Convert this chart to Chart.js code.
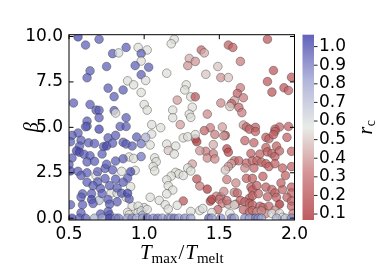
<!DOCTYPE html>
<html>
<head>
<meta charset="utf-8">
<script src="https://cdn.jsdelivr.net/npm/chart.js@4.4.0/dist/chart.umd.min.js"></script>
<style>
  html, body { margin: 0; padding: 0; background: #fff; }
</style>
</head>
<body>
<canvas id="scatter" width="381" height="267"></canvas>
<script>
// upper half of the plot (beta > 5)
const upperT = [
  0.56, 0.70, 0.61, 0.88, 0.96, 1.02, 0.79, 0.83, 0.98, 0.98,
  0.94, 1.03, 0.75, 1.20, 1.18, 1.38, 1.40, 1.30, 1.34, 1.29,
  1.49, 1.82, 1.56, 1.59, 1.64, 1.86, 0.64, 0.62, 0.89, 0.93,
  0.98, 1.01, 1.15, 1.41, 1.51, 1.56, 1.98, 1.82, 0.76, 0.86,
  0.80, 0.98, 1.28, 1.27, 1.64, 1.62, 1.66, 1.85, 1.93, 1.96,
  0.53, 0.64, 1.00, 1.02, 1.31, 1.34, 1.22, 1.32, 1.19, 1.51,
  1.60, 1.58, 1.57, 1.63, 1.65, 0.68, 0.70, 0.80, 0.81, 1.30,
  1.31, 1.42, 1.19, 0.70, 0.88, 0.62, 0.62, 0.84, 0.88, 1.05,
  1.11, 1.24, 1.44, 1.66, 1.68, 1.74, 1.52, 1.90, 1.96
];
const upperBeta = [
  9.98, 9.85, 9.53, 9.40, 9.40, 9.26, 9.06, 9.10, 9.06, 8.65,
  8.40, 8.31, 8.35, 9.85, 9.60, 9.26, 9.10, 8.79, 8.63, 8.40,
  8.35, 9.85, 9.53, 9.40, 8.63, 8.13, 8.11, 7.73, 7.56, 7.34,
  7.90, 7.58, 7.98, 7.92, 7.74, 7.74, 7.76, 7.52, 7.16, 7.06,
  6.69, 6.92, 7.34, 7.06, 7.18, 6.87, 6.63, 6.94, 7.18, 7.03,
  6.34, 6.26, 6.26, 5.95, 6.68, 6.68, 6.50, 6.11, 5.95, 6.34,
  6.48, 6.31, 6.15, 6.10, 5.81, 5.95, 5.94, 5.92, 5.79, 5.73,
  5.55, 5.73, 5.53, 5.53, 5.53, 5.34, 5.06, 5.05, 5.05, 5.15,
  4.98, 5.15, 4.98, 5.13, 5.02, 5.00, 5.02, 5.02, 5.05
];
const upperRc = [
  1.00, 0.95, 0.95, 0.95, 0.55, 0.55, 0.95, 0.60, 0.95, 0.55,
  0.95, 0.95, 0.95, 0.55, 0.55, 0.30, 0.45, 0.45, 0.40, 0.40,
  0.50, 0.25, 0.28, 0.28, 0.35, 0.25, 0.95, 0.95, 0.55, 0.55,
  0.95, 0.55, 0.55, 0.50, 0.40, 0.50, 0.25, 0.25, 0.95, 0.95,
  0.95, 0.55, 0.55, 0.55, 0.35, 0.28, 0.35, 0.25, 0.25, 0.30,
  0.95, 0.95, 0.55, 0.55, 0.55, 0.25, 0.42, 0.55, 0.55, 0.38,
  0.42, 0.28, 0.50, 0.30, 0.35, 0.95, 0.95, 0.95, 0.55, 0.55,
  0.55, 0.38, 0.55, 0.95, 0.95, 0.95, 0.95, 0.95, 0.95, 0.55,
  0.55, 0.42, 0.35, 0.42, 0.30, 0.28, 0.42, 0.28, 0.28
];

// hot runs, lower half
const hotT = [
  1.40, 1.47, 1.54, 1.34, 1.35, 1.41, 1.46, 1.37, 1.55, 1.56,
  1.67, 1.73, 1.70, 1.74, 1.87, 1.87, 1.81, 1.83, 1.86, 1.95,
  1.53, 1.71, 1.77, 1.81, 1.82, 1.85, 1.87, 1.98, 1.88, 1.90,
  1.42, 1.47, 1.60, 1.63, 1.68, 1.72, 1.75, 1.78, 1.81, 1.83,
  1.87, 1.58, 1.56, 1.67, 1.73, 1.92, 1.98, 1.35, 1.37, 1.55,
  1.61, 1.68, 1.72, 1.79, 1.94, 1.42, 1.48, 1.51, 1.60, 1.62,
  1.71, 1.72, 1.75, 1.81, 1.85, 1.87, 1.92, 1.98, 1.98, 1.53,
  1.91, 1.70, 1.72, 1.76, 1.82, 1.88, 1.95, 1.98, 1.50, 1.52,
  1.56, 1.61, 1.64, 1.67, 1.70, 1.72, 1.77, 1.79, 1.83, 1.90,
  1.98, 1.44, 1.45, 1.26, 1.55, 1.66, 1.70, 1.72, 1.75, 1.81,
  1.99, 1.49, 1.78, 1.87, 1.46, 1.32
];
const hotBeta = [
  4.82, 4.61, 4.56, 4.37, 4.21, 3.68, 3.55, 3.71, 3.82, 3.63,
  4.27, 4.15, 4.90, 4.77, 4.90, 4.77, 4.45, 4.37, 4.60, 4.45,
  4.53, 3.56, 3.53, 3.89, 3.65, 3.56, 3.40, 3.68, 3.97, 3.70,
  3.31, 3.26, 3.16, 3.16, 3.03, 3.16, 3.16, 3.08, 3.00, 2.84,
  3.00, 3.00, 2.84, 2.76, 2.76, 2.76, 2.84, 2.16, 1.77, 2.13,
  1.94, 2.19, 2.19, 2.30, 2.35, 1.60, 1.21, 1.18, 1.42, 1.39,
  1.71, 1.55, 1.79, 1.71, 1.58, 1.39, 1.58, 1.71, 1.39, 1.47,
  1.94, 1.10, 1.23, 1.35, 1.18, 1.15, 1.15, 0.94, 1.03, 0.82,
  0.77, 0.77, 0.98, 0.90, 0.82, 0.74, 0.66, 0.58, 0.66, 0.77,
  0.66, 0.94, 1.04, 0.95, 0.97, 0.47, 0.34, 0.42, 0.34, 0.26,
  0.26, 0.47, 0.40, 0.44, 4.05, 2.98
];
const hotRc = [
  0.30, 0.35, 0.20, 0.30, 0.15, 0.35, 0.35, 0.40, 0.20, 0.20,
  0.30, 0.30, 0.28, 0.28, 0.28, 0.28, 0.28, 0.28, 0.28, 0.28,
  0.42, 0.28, 0.28, 0.28, 0.28, 0.28, 0.28, 0.28, 0.28, 0.28,
  0.38, 0.38, 0.30, 0.30, 0.30, 0.30, 0.30, 0.30, 0.28, 0.28,
  0.28, 0.42, 0.40, 0.38, 0.30, 0.28, 0.28, 0.25, 0.35, 0.35,
  0.38, 0.28, 0.28, 0.28, 0.28, 0.15, 0.35, 0.35, 0.38, 0.30,
  0.28, 0.28, 0.28, 0.28, 0.28, 0.28, 0.30, 0.28, 0.30, 0.38,
  0.28, 0.28, 0.28, 0.30, 0.28, 0.28, 0.28, 0.28, 0.35, 0.35,
  0.45, 0.28, 0.28, 0.28, 0.28, 0.28, 0.28, 0.30, 0.30, 0.10,
  0.30, 0.20, 0.20, 0.25, 0.30, 0.30, 0.30, 0.30, 0.38, 0.38,
  0.35, 0.30, 0.38, 0.38, 0.45, 0.42
];

// transition band around T = 1
const midT = [
  1.26, 1.29, 1.34, 1.15, 1.21, 1.16, 1.20, 1.07, 1.08, 1.06,
  1.07, 1.29, 1.31, 1.21, 1.23, 1.26, 1.18, 1.15, 1.16, 1.19,
  1.15, 1.04, 1.10, 1.14, 1.22, 1.00, 1.16, 1.37, 1.39, 1.45,
  1.31, 1.60, 1.57, 1.85, 1.90, 1.92, 1.54, 1.05, 1.01, 1.04,
  0.90, 0.93, 0.85, 0.94, 0.68, 0.91, 0.78, 0.82, 0.88, 0.92,
  0.96, 0.89, 0.90, 0.96, 0.70, 0.98, 0.99, 1.02
];
const midBeta = [
  4.42, 4.48, 4.60, 4.08, 3.97, 3.73, 3.53, 3.32, 3.11, 2.84,
  2.60, 2.76, 2.60, 2.52, 2.44, 2.35, 2.32, 2.11, 1.79, 1.55,
  1.34, 1.15, 0.98, 0.74, 0.71, 0.58, 0.50, 0.42, 0.53, 0.31,
  0.37, 0.73, 0.26, 0.26, 0.26, 0.05, 2.65, 4.63, 4.45, 4.03,
  3.37, 3.29, 2.58, 2.63, 2.34, 1.74, 1.39, 1.37, 1.15, 0.66,
  0.66, 0.32, 0.19, 0.31, 0.98, 0.40, 0.16, 0.48
];
const midRc = [
  0.55, 0.55, 0.55, 0.55, 0.55, 0.50, 0.55, 0.55, 0.55, 0.55,
  0.55, 0.55, 0.55, 0.55, 0.55, 0.55, 0.55, 0.55, 0.55, 0.55,
  0.55, 0.55, 0.55, 0.55, 0.55, 0.55, 0.55, 0.55, 0.55, 0.55,
  0.55, 0.55, 0.55, 0.55, 0.55, 0.55, 0.50, 0.55, 0.75, 0.55,
  0.55, 0.55, 0.55, 0.55, 0.55, 0.55, 0.55, 0.60, 0.55, 0.55,
  0.55, 0.55, 0.55, 0.55, 0.70, 0.60, 0.75, 0.55
];

// cold runs, lower half
const coldT = [
  0.61, 0.70, 0.56, 0.52, 0.51, 0.58, 0.76, 0.81, 0.95, 0.63,
  0.67, 0.73, 0.75, 0.86, 0.88, 0.57, 0.55, 0.57, 0.60, 0.64,
  0.72, 0.52, 0.62, 0.67, 0.81, 0.86, 0.98, 0.50, 0.51, 0.56,
  0.62, 0.74, 0.79, 0.91, 0.58, 0.62, 0.69, 0.74, 0.81, 0.89,
  0.66, 0.71, 0.77, 0.82, 0.86, 0.59, 0.58, 0.65, 0.72, 0.85,
  0.89, 0.65, 0.76, 0.82, 0.90, 0.51, 0.59, 0.66, 0.77, 0.58,
  0.71, 0.76, 0.77, 0.79, 0.92, 0.75, 0.69, 0.98
];
const coldBeta = [
  5.03, 4.90, 4.69, 4.56, 4.21, 4.29, 4.42, 4.56, 4.47, 4.15,
  4.11, 3.95, 3.97, 4.18, 4.08, 3.97, 3.71, 3.63, 3.52, 3.44,
  3.53, 3.31, 3.10, 3.13, 3.15, 3.27, 3.39, 2.95, 2.60, 2.58,
  2.50, 2.74, 2.66, 2.56, 2.35, 1.98, 2.00, 2.18, 2.15, 2.21,
  1.79, 1.63, 1.79, 1.66, 1.98, 1.34, 1.16, 1.35, 1.35, 1.37,
  1.37, 1.02, 1.03, 0.90, 1.06, 0.74, 0.74, 0.81, 0.77, 0.29,
  0.23, 0.37, 0.18, 4.13, 3.97, 2.97, 2.56, 4.10
];
const coldRc = [
  0.95, 1.00, 0.95, 0.95, 0.95, 0.95, 0.95, 0.95, 0.95, 0.95,
  0.95, 0.95, 1.00, 0.95, 0.95, 0.95, 1.00, 1.00, 0.95, 0.95,
  0.95, 0.95, 0.95, 0.95, 0.95, 0.95, 0.90, 0.95, 1.00, 0.95,
  0.95, 0.95, 0.95, 1.00, 0.95, 0.95, 0.95, 0.95, 0.95, 0.95,
  0.95, 0.95, 0.95, 0.95, 0.95, 0.95, 0.95, 0.95, 0.95, 0.95,
  1.00, 1.00, 0.95, 0.95, 0.95, 0.95, 0.95, 0.95, 0.95, 0.95,
  0.95, 0.95, 0.95, 0.95, 0.95, 0.95, 0.95, 0.90
];

// runs with beta = 0
const floorT = [
  0.52, 0.57, 0.61, 0.67, 0.72, 0.77, 0.81, 0.83, 0.89, 0.92,
  0.95, 0.99, 1.02, 1.06, 1.09, 1.12, 1.16, 1.18, 1.20, 1.23,
  1.27, 1.31, 1.43, 1.45, 1.51, 1.58, 1.60, 1.67, 1.70, 1.74,
  1.76, 1.78, 1.88, 1.94, 1.98
];
const floorBeta = [
  0, 0, 0, 0, 0, 0, 0, 0, 0, 0,
  0, 0, 0, 0, 0, 0, 0, 0, 0, 0,
  0, 0, 0, 0, 0, 0, 0, 0, 0, 0,
  0, 0, 0, 0, 0
];
const floorRc = [
  1.00, 0.95, 0.95, 0.75, 0.80, 1.00, 0.85, 0.90, 0.80, 0.85,
  0.75, 0.80, 0.90, 0.85, 0.90, 0.80, 0.85, 0.75, 0.90, 0.80,
  0.85, 0.80, 0.95, 0.80, 0.85, 0.90, 0.80, 0.85, 0.80, 0.90,
  0.85, 0.80, 0.75, 0.70, 0.85
];

const xTicks = [0.5, 1.0, 1.5, 2.0];
const yTicks = [0, 2.5, 5, 7.5, 10];
const cbTicks = [0.1, 0.2, 0.3, 0.4, 0.5, 0.6, 0.7, 0.8, 0.9, 1.0];

const cMin = 0.068, cMax = 1.064;
const cmapStops = [
  [0.00, [165, 30, 35]],
  [0.25, [195, 105, 108]],
  [0.50, [222, 228, 222]],
  [0.75, [150, 155, 205]],
  [1.00, [38, 38, 160]]
];
const ALPHA = 0.72;

function cmap(v, a) {
  let t = (v - cMin) / (cMax - cMin);
  t = Math.max(0, Math.min(1, t));
  for (let i = 1; i < cmapStops.length; i++) {
    const [t1, c1] = cmapStops[i];
    const [t0, c0] = cmapStops[i - 1];
    if (t <= t1) {
      const f = (t - t0) / (t1 - t0);
      const c = c0.map((ch, k) => Math.round(ch + (c1[k] - ch) * f));
      return `rgba(${c[0]},${c[1]},${c[2]},${a})`;
    }
  }
  return `rgba(38,38,160,${a})`;
}

const groups = [
  [upperT, upperBeta, upperRc],
  [hotT, hotBeta, hotRc],
  [midT, midBeta, midRc],
  [coldT, coldBeta, coldRc],
  [floorT, floorBeta, floorRc]
];
const points = [];
const fills = [];
groups.forEach(([t, b, r]) => {
  t.forEach((v, i) => {
    points.push({ x: v, y: b[i] });
    fills.push(cmap(r[i], ALPHA));
  });
});

const SERIF = '"Liberation Serif", "DejaVu Serif", serif';
const tickFont = { family: '"DejaVu Sans"', size: 17 };

function mathText(ctx, parts, cx, baseY) {
  let w = 0;
  parts.forEach(p => { ctx.font = p[1]; w += ctx.measureText(p[0]).width + (p[3] || 0); });
  let x = cx - w / 2;
  parts.forEach(p => {
    ctx.font = p[1];
    ctx.fillText(p[0], x, baseY + p[2]);
    x += ctx.measureText(p[0]).width + (p[3] || 0);
  });
}

const decor = {
  id: 'decor',
  afterDatasetsDraw(chart) {
    const { ctx, chartArea: ca, scales } = chart;
    const xs = scales.x, ys = scales.y, cb = scales.cb;
    ctx.save();
    ctx.strokeStyle = '#000';
    ctx.lineWidth = 1;
    ctx.strokeRect(ca.left, ca.top, ca.right - ca.left, ca.bottom - ca.top);

    // inward ticks on all four sides
    ctx.beginPath();
    xTicks.forEach(v => {
      const px = xs.getPixelForValue(v);
      ctx.moveTo(px, ca.bottom); ctx.lineTo(px, ca.bottom - 4.5);
      ctx.moveTo(px, ca.top); ctx.lineTo(px, ca.top + 4.5);
    });
    yTicks.forEach(v => {
      const py = ys.getPixelForValue(v);
      ctx.moveTo(ca.left, py); ctx.lineTo(ca.left + 4.5, py);
      ctx.moveTo(ca.right, py); ctx.lineTo(ca.right - 4.5, py);
    });
    ctx.stroke();

    // colorbar
    const bx = ca.right + 8, bw = 11.5;
    const top = cb.getPixelForValue(cMax), bot = cb.getPixelForValue(cMin);
    const g = ctx.createLinearGradient(0, bot, 0, top);
    for (let i = 0; i <= 40; i++) {
      g.addColorStop(i / 40, cmap(cMin + (cMax - cMin) * i / 40, ALPHA));
    }
    ctx.fillStyle = g;
    ctx.fillRect(bx, top, bw, bot - top);
    ctx.beginPath();
    cbTicks.forEach(v => {
      const py = cb.getPixelForValue(v);
      ctx.moveTo(bx + bw, py); ctx.lineTo(bx + bw + 3.5, py);
    });
    ctx.strokeStyle = '#222';
    ctx.stroke();

    // axis labels
    ctx.fillStyle = '#000';
    ctx.textBaseline = 'alphabetic';
    const cx = (ca.left + ca.right) / 2;
    mathText(ctx, [
      ['T', `italic 21px ${SERIF}`, 0, 0],
      ['max', `15px ${SERIF}`, 4, 1],
      ['/', `21px ${SERIF}`, 0, 1],
      ['T', `italic 21px ${SERIF}`, 0, 0],
      ['melt', `15px ${SERIF}`, 4, 0]
    ], cx, 259);

    const cy = (ca.top + ca.bottom) / 2;
    ctx.save();
    ctx.translate(33, cy);
    ctx.rotate(-Math.PI / 2);
    mathText(ctx, [['β', `italic 20px ${SERIF}`, 0, 0]], 0, 5);
    ctx.restore();

    ctx.save();
    ctx.translate(368, cy);
    ctx.rotate(-Math.PI / 2);
    mathText(ctx, [
      ['r', `italic 20px ${SERIF}`, 0, 0.5],
      ['c', `14px ${SERIF}`, 3, 0]
    ], 0, 4);
    ctx.restore();
    ctx.restore();
  }
};

new Chart(document.getElementById('scatter'), {
  type: 'scatter',
  data: {
    datasets: [{
      data: points,
      backgroundColor: fills,
      borderColor: 'rgba(50,50,50,0.5)',
      borderWidth: 0.8,
      pointRadius: 4.3
    }]
  },
  options: {
    responsive: false,
    animation: false,
    devicePixelRatio: 1,
    events: [],
    layout: { padding: { top: 10, left: 0, right: 0, bottom: 0 } },
    plugins: { legend: { display: false }, tooltip: { enabled: false } },
    scales: {
      x: {
        type: 'linear', position: 'bottom', min: 0.5, max: 2.0,
        grid: { display: false, drawTicks: false },
        border: { display: false },
        afterBuildTicks: s => { s.ticks = xTicks.map(v => ({ value: v })); },
        afterFit: s => { s.height = 47; },
        ticks: { font: tickFont, color: '#000', padding: 4, maxRotation: 0, autoSkip: false,
          callback: v => v.toFixed(1) }
      },
      y: {
        type: 'linear', position: 'left', min: -0.1, max: 10.1,
        grid: { display: false, drawTicks: false },
        border: { display: false },
        afterBuildTicks: s => { s.ticks = yTicks.map(v => ({ value: v })); },
        afterFit: s => { s.width = 69; },
        ticks: { font: tickFont, color: '#000', padding: 6, autoSkip: false,
          callback: v => v.toFixed(1) }
      },
      cb: {
        type: 'linear', position: 'right', min: cMin, max: cMax,
        grid: { display: false, drawTicks: false },
        border: { display: false },
        afterBuildTicks: s => { s.ticks = cbTicks.map(v => ({ value: v })); },
        afterFit: s => { s.width = 86.5; },
        ticks: { font: tickFont, color: '#000', padding: 24.5, autoSkip: false,
          callback: v => v.toFixed(1) }
      }
    }
  },
  plugins: [decor]
});
</script>
</body>
</html>
